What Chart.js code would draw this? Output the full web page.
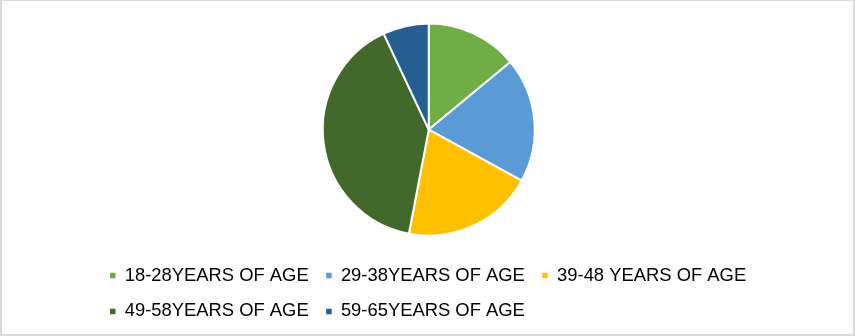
<!DOCTYPE html>
<html>
<head>
<meta charset="utf-8">
<script src="https://cdn.jsdelivr.net/npm/chart.js@4"></script>
<style>
  html, body { margin: 0; padding: 0; background: #fff; }
  canvas { display: block; }
</style>
</head>
<body>
<canvas id="c" width="855" height="336"></canvas>
<script>
const categories = ['18-28YEARS OF AGE', '29-38YEARS OF AGE', '39-48 YEARS OF AGE', '49-58YEARS OF AGE', '59-65YEARS OF AGE'];
const shares = [14, 19, 20, 40, 7];
const sliceColors = ['#70AD47', '#5B9BD5', '#FFC000', '#43682B', '#255E91'];

const frame = {
  id: 'frame',
  beforeDraw(chart) {
    const ctx = chart.ctx;
    ctx.save();
    ctx.fillStyle = '#ffffff';
    ctx.fillRect(0, 0, chart.width, chart.height);
    ctx.restore();
  },
  afterDraw(chart) {
    const ctx = chart.ctx, w = chart.width, h = chart.height;
    ctx.save();
    ctx.fillStyle = '#d9d9d9';
    ctx.fillRect(0, 0, w, 1);
    ctx.fillRect(0, 0, 2, h);
    ctx.fillRect(w - 2, 0, 2, h);
    ctx.fillRect(0, h - 2, w, 2);
    ctx.restore();
  }
};

new Chart(document.getElementById('c'), {
  type: 'pie',
  data: {
    labels: categories,
    datasets: [{
      data: shares,
      backgroundColor: sliceColors,
      borderColor: '#ffffff',
      borderWidth: 2,
      radius: 106
    }]
  },
  options: {
    responsive: false,
    animation: false,
    devicePixelRatio: 1,
    layout: { padding: { top: 10.4, bottom: 5.4, left: 92.5, right: 90 } },
    plugins: {
      tooltip: { enabled: false },
      legend: {
        position: 'bottom',
        align: 'start',
        labels: {
          boxWidth: 5.5,
          boxHeight: 5.5,
          padding: 17.5,
          color: '#000000',
          font: { family: '"Liberation Sans", Arial, sans-serif', size: 18.4 },
          generateLabels(chart) {
            return Chart.overrides.pie.plugins.legend.labels.generateLabels(chart)
              .map(l => Object.assign(l, { lineWidth: 0 }));
          }
        }
      }
    }
  },
  plugins: [frame]
});
</script>
</body>
</html>
